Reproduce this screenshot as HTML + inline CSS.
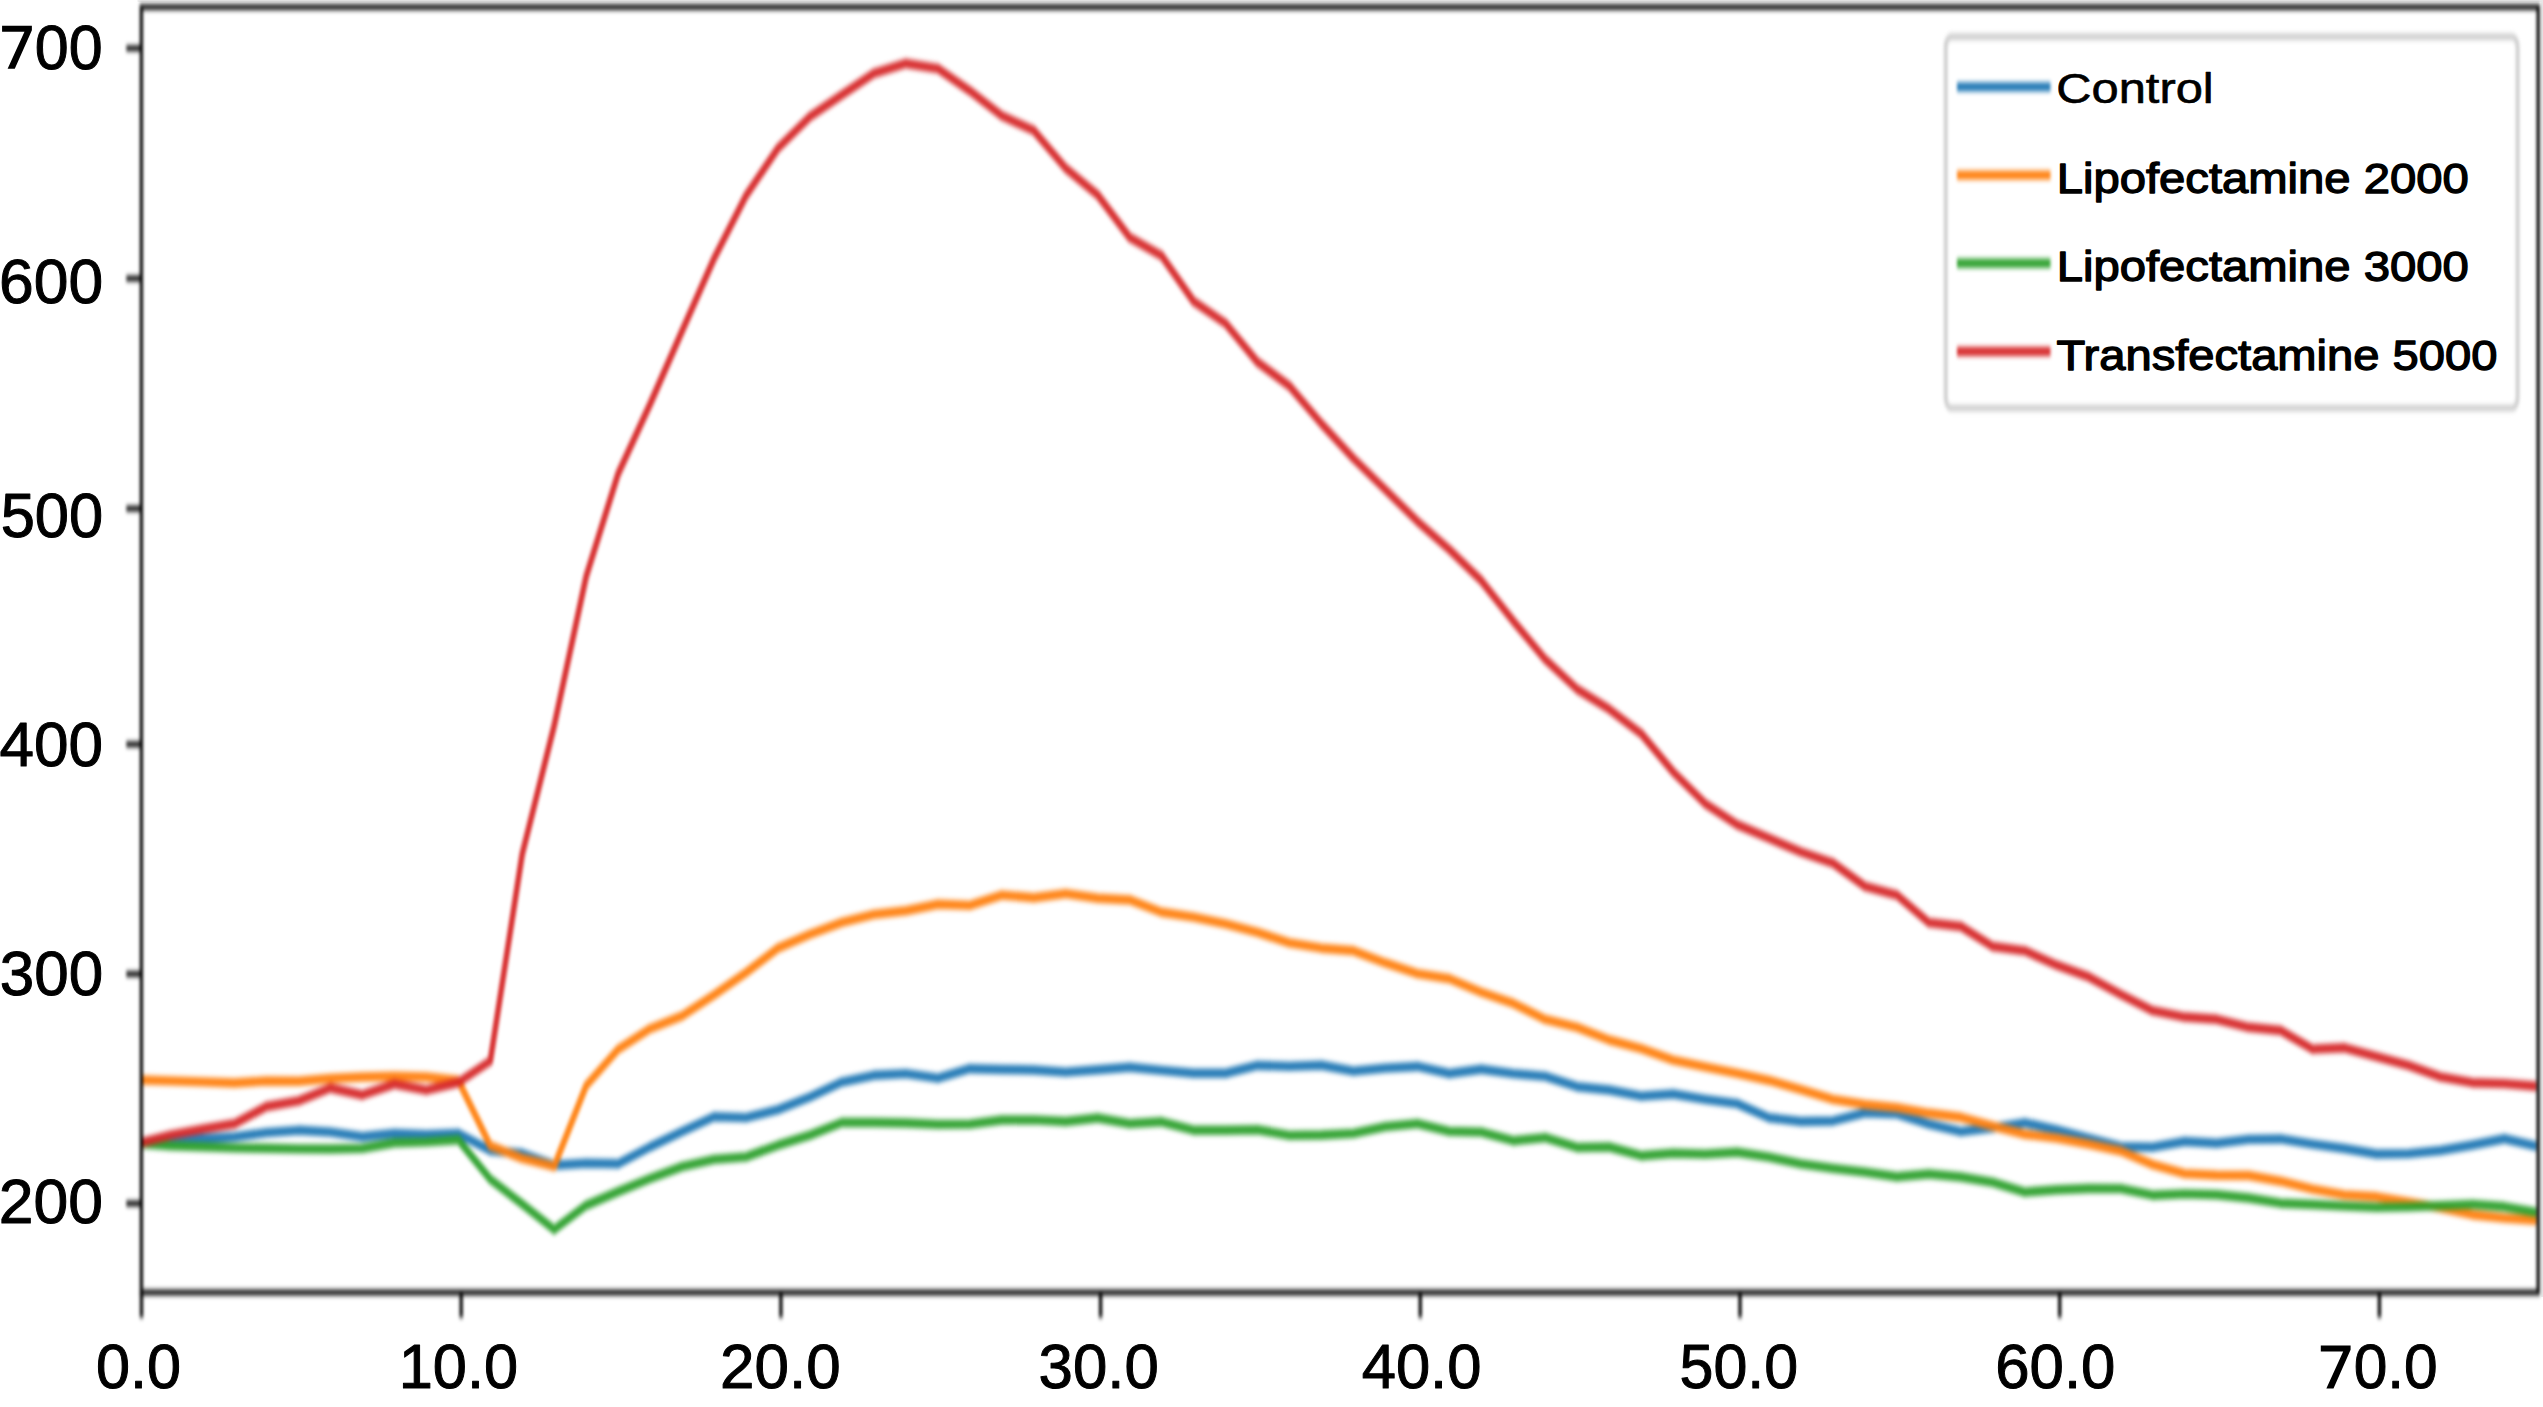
<!DOCTYPE html>
<html><head><meta charset="utf-8"><title>chart</title>
<style>
html,body{margin:0;padding:0;background:#fff;}
body{width:2543px;height:1407px;overflow:hidden;}
svg{display:block;}
text{font-family:"Liberation Sans",sans-serif;fill:#000;}
</style></head><body>
<svg width="2543" height="1407" viewBox="0 0 2543 1407">
<defs>
<filter id="b" x="0" y="0" width="2543" height="1407" filterUnits="userSpaceOnUse" color-interpolation-filters="sRGB"><feGaussianBlur stdDeviation="1.75 2.9"/></filter>
<clipPath id="c"><rect x="140.9" y="0" width="2397.5" height="780"/></clipPath>
</defs>
<rect x="0" y="0" width="2543" height="1407" fill="#fff"/>
<rect x="137.5" y="0" width="2405.5" height="1.9" fill="#efefef"/>
<rect x="2541.3" y="0" width="1.7" height="1297" fill="#e9e9e9"/>
<g transform="translate(0.5,0.5)"><g filter="url(#b)"><g transform="scale(1,1.67)" fill="none">
<g clip-path="url(#c)" stroke-width="5.629" stroke-opacity="0.95" stroke-linejoin="round" stroke-linecap="butt">
<polyline stroke="#1f77b4" points="138.1,684.07 170.1,682.74 202.0,681.55 234.0,680.46 266.0,677.95 297.9,676.54 329.9,677.63 361.9,680.40 393.9,678.39 425.8,679.10 457.8,678.44 489.8,688.67 521.7,690.44 553.7,697.43 585.7,696.28 617.6,696.54 649.6,686.46 681.6,677.20 713.6,668.37 745.5,668.96 777.5,664.17 809.5,656.58 841.4,647.65 873.4,643.60 905.4,642.57 937.4,645.25 969.3,639.66 1001.3,640.09 1033.3,640.38 1065.2,641.69 1097.2,640.23 1129.2,638.75 1161.1,640.64 1193.1,642.37 1225.1,642.36 1257.0,637.68 1289.0,638.24 1321.0,637.56 1353.0,641.12 1384.9,639.28 1416.9,638.29 1448.9,642.53 1480.8,639.95 1512.8,642.57 1544.8,644.26 1576.7,650.41 1608.7,652.40 1640.7,656.07 1672.7,654.80 1704.6,657.99 1736.6,660.54 1768.6,669.04 1800.5,671.26 1832.5,670.94 1864.5,666.07 1896.4,666.71 1928.4,672.82 1960.4,677.33 1992.4,675.07 2024.3,672.06 2056.3,676.32 2088.3,681.32 2120.2,686.35 2152.2,686.62 2184.2,683.22 2216.1,684.26 2248.1,681.98 2280.1,681.70 2312.1,684.79 2344.0,687.39 2376.0,690.69 2408.0,690.48 2439.9,688.62 2471.9,685.31 2503.9,681.58 2535.8,685.95"/>
<polyline stroke="#ff7f0e" points="138.1,646.35 170.1,646.95 202.0,647.56 234.0,648.18 266.0,647.01 297.9,647.15 329.9,645.47 361.9,644.58 393.9,644.14 425.8,644.62 457.8,646.65 489.8,685.74 521.7,693.38 553.7,698.08 585.7,649.81 617.6,628.03 649.6,615.70 681.6,608.03 713.6,595.47 745.5,582.12 777.5,567.45 809.5,559.13 841.4,552.04 873.4,547.21 905.4,545.05 937.4,541.19 969.3,541.82 1001.3,535.69 1033.3,537.25 1065.2,534.79 1097.2,537.59 1129.2,538.59 1161.1,545.95 1193.1,548.91 1225.1,552.95 1257.0,557.95 1289.0,564.33 1321.0,567.48 1353.0,569.05 1384.9,576.33 1416.9,582.67 1448.9,585.80 1480.8,593.87 1512.8,600.54 1544.8,610.15 1576.7,614.90 1608.7,622.45 1640.7,627.66 1672.7,634.55 1704.6,638.50 1736.6,642.42 1768.6,646.69 1800.5,652.19 1832.5,657.99 1864.5,661.08 1896.4,662.93 1928.4,666.35 1960.4,668.74 1992.4,674.07 2024.3,678.88 2056.3,681.23 2088.3,684.81 2120.2,688.92 2152.2,697.09 2184.2,702.49 2216.1,703.44 2248.1,703.57 2280.1,707.01 2312.1,711.74 2344.0,715.21 2376.0,716.35 2408.0,719.64 2439.9,722.93 2471.9,727.07 2503.9,729.10 2535.8,730.42"/>
<polyline stroke="#2ca02c" points="138.1,684.31 170.1,685.75 202.0,686.35 234.0,687.04 266.0,687.27 297.9,687.66 329.9,687.72 361.9,687.35 393.9,684.01 425.8,683.46 457.8,682.16 489.8,705.85 521.7,720.65 553.7,735.93 585.7,721.46 617.6,713.28 649.6,705.42 681.6,698.28 713.6,693.95 745.5,692.42 777.5,685.46 809.5,679.43 841.4,671.86 873.4,671.82 905.4,672.15 937.4,672.96 969.3,672.84 1001.3,670.36 1033.3,670.29 1065.2,671.29 1097.2,669.19 1129.2,672.51 1161.1,671.44 1193.1,676.47 1225.1,676.47 1257.0,676.19 1289.0,679.55 1321.0,679.33 1353.0,678.37 1384.9,674.31 1416.9,672.54 1448.9,677.17 1480.8,677.61 1512.8,682.75 1544.8,680.88 1576.7,686.82 1608.7,686.52 1640.7,691.74 1672.7,690.26 1704.6,690.79 1736.6,689.67 1768.6,692.58 1800.5,696.65 1832.5,699.31 1864.5,701.58 1896.4,704.31 1928.4,702.70 1960.4,704.49 1992.4,707.67 2024.3,713.53 2056.3,712.16 2088.3,711.34 2120.2,711.48 2152.2,715.39 2184.2,714.61 2216.1,715.15 2248.1,717.04 2280.1,720.17 2312.1,720.93 2344.0,721.92 2376.0,722.66 2408.0,722.41 2439.9,721.61 2471.9,720.87 2503.9,722.34 2535.8,725.63"/>
<polyline stroke="#d62728" points="138.1,684.40 170.1,679.37 202.0,675.79 234.0,672.63 266.0,662.25 297.9,658.88 329.9,651.19 361.9,655.37 393.9,648.83 425.8,652.48 457.8,647.90 489.8,635.03 521.7,511.25 553.7,434.23 585.7,344.82 617.6,283.44 649.6,241.69 681.6,197.90 713.6,154.47 745.5,116.88 777.5,88.43 809.5,69.56 841.4,56.50 873.4,43.60 905.4,37.72 937.4,40.82 969.3,54.07 1001.3,69.04 1033.3,77.88 1065.2,100.46 1097.2,116.48 1129.2,141.89 1161.1,152.83 1193.1,180.17 1225.1,193.41 1257.0,216.54 1289.0,230.90 1321.0,253.46 1353.0,274.23 1384.9,292.97 1416.9,311.86 1448.9,328.81 1480.8,347.40 1512.8,371.61 1544.8,394.59 1576.7,412.42 1608.7,424.36 1640.7,439.04 1672.7,461.93 1704.6,480.86 1736.6,493.51 1768.6,501.66 1800.5,509.89 1832.5,516.52 1864.5,530.46 1896.4,535.74 1928.4,552.18 1960.4,554.49 1992.4,566.49 2024.3,569.05 2056.3,577.66 2088.3,584.69 2120.2,595.15 2152.2,604.88 2184.2,608.72 2216.1,610.06 2248.1,614.85 2280.1,616.80 2312.1,627.93 2344.0,627.13 2376.0,632.39 2408.0,637.61 2439.9,644.49 2471.9,648.02 2503.9,648.60 2535.8,650.16"/>
</g>
<g stroke="#000" stroke-opacity="0.94" stroke-width="3.413" stroke-linecap="butt">
<rect x="140.90" y="3.952" width="2396.80" height="769.701"/>
<line x1="125.80" y1="28.623" x2="140.90" y2="28.623"/>
<line x1="125.80" y1="166.467" x2="140.90" y2="166.467"/>
<line x1="125.80" y1="304.251" x2="140.90" y2="304.251"/>
<line x1="125.80" y1="445.389" x2="140.90" y2="445.389"/>
<line x1="125.80" y1="582.934" x2="140.90" y2="582.934"/>
<line x1="125.80" y1="720.359" x2="140.90" y2="720.359"/>
<line x1="141.00" y1="773.653" x2="141.00" y2="788.743"/>
<line x1="460.70" y1="773.653" x2="460.70" y2="788.743"/>
<line x1="780.40" y1="773.653" x2="780.40" y2="788.743"/>
<line x1="1100.10" y1="773.653" x2="1100.10" y2="788.743"/>
<line x1="1419.80" y1="773.653" x2="1419.80" y2="788.743"/>
<line x1="1739.50" y1="773.653" x2="1739.50" y2="788.743"/>
<line x1="2059.20" y1="773.653" x2="2059.20" y2="788.743"/>
<line x1="2378.90" y1="773.653" x2="2378.90" y2="788.743"/>
</g>
</g></g></g>
<g transform="translate(0.5,0.5)"><g filter="url(#b)"><g transform="scale(1,1.67)">
<rect x="1945.20" y="21.677" width="571.90" height="222.395" rx="6" ry="6" fill="#fff" fill-opacity="0.8" stroke="#cfcfcf" stroke-width="3.832"/>
<g stroke-width="5.629" stroke-opacity="0.95" fill="none">
<line x1="1956.5" y1="51.737" x2="2050" y2="51.737" stroke="#1f77b4"/>
<line x1="1956.5" y1="104.551" x2="2050" y2="104.551" stroke="#ff7f0e"/>
<line x1="1956.5" y1="157.365" x2="2050" y2="157.365" stroke="#2ca02c"/>
<line x1="1956.5" y1="210.180" x2="2050" y2="210.180" stroke="#d62728"/>
</g></g></g></g>
<text x="2056.31" y="102.66" font-size="41.9" textLength="157.42" lengthAdjust="spacingAndGlyphs" stroke="#000" stroke-width="0.6" stroke-linejoin="round">Control</text>
<text x="2056.67" y="192.89" font-size="41.7" textLength="412.11" lengthAdjust="spacingAndGlyphs" stroke="#000" stroke-width="1.3" stroke-linejoin="round">Lipofectamine 2000</text>
<text x="2056.67" y="281.09" font-size="41.7" textLength="412.11" lengthAdjust="spacingAndGlyphs" stroke="#000" stroke-width="1.3" stroke-linejoin="round">Lipofectamine 3000</text>
<text x="2056.50" y="369.65" font-size="41.7" textLength="440.93" lengthAdjust="spacingAndGlyphs" stroke="#000" stroke-width="1.3" stroke-linejoin="round">Transfectamine 5000</text>
<polygon points="2.08,25.85 31.88,25.85 31.88,30.25 14.78,68.85 7.63,68.85 24.48,31.85 2.08,31.85" fill="#000"/>
<text x="34.79" y="69.33" font-size="62.8" textLength="67.80" lengthAdjust="spacingAndGlyphs" stroke="#000" stroke-width="1.0" stroke-linejoin="round">00</text>
<text x="-0.97" y="303.01" font-size="62.8" textLength="104.07" lengthAdjust="spacingAndGlyphs" stroke="#000" stroke-width="1.0" stroke-linejoin="round">600</text>
<text x="0.64" y="537.35" font-size="62.8" textLength="102.50" lengthAdjust="spacingAndGlyphs" stroke="#000" stroke-width="1.0" stroke-linejoin="round">500</text>
<text x="-0.43" y="765.81" font-size="62.8" textLength="103.51" lengthAdjust="spacingAndGlyphs" stroke="#000" stroke-width="1.0" stroke-linejoin="round">400</text>
<text x="-0.25" y="994.50" font-size="62.8" textLength="103.38" lengthAdjust="spacingAndGlyphs" stroke="#000" stroke-width="1.0" stroke-linejoin="round">300</text>
<text x="-1.14" y="1222.82" font-size="62.8" textLength="104.17" lengthAdjust="spacingAndGlyphs" stroke="#000" stroke-width="1.0" stroke-linejoin="round">200</text>
<text x="95.90" y="1387.87" font-size="62.8" textLength="85.11" lengthAdjust="spacingAndGlyphs" stroke="#000" stroke-width="1.0" stroke-linejoin="round">0.0</text>
<text x="398.74" y="1387.85" font-size="62.8" textLength="119.36" lengthAdjust="spacingAndGlyphs" stroke="#000" stroke-width="1.0" stroke-linejoin="round">10.0</text>
<text x="720.06" y="1387.86" font-size="62.8" textLength="120.60" lengthAdjust="spacingAndGlyphs" stroke="#000" stroke-width="1.0" stroke-linejoin="round">20.0</text>
<text x="1038.61" y="1387.72" font-size="62.8" textLength="120.24" lengthAdjust="spacingAndGlyphs" stroke="#000" stroke-width="1.0" stroke-linejoin="round">30.0</text>
<text x="1361.67" y="1387.96" font-size="62.8" textLength="119.80" lengthAdjust="spacingAndGlyphs" stroke="#000" stroke-width="1.0" stroke-linejoin="round">40.0</text>
<text x="1679.55" y="1387.80" font-size="62.8" textLength="118.60" lengthAdjust="spacingAndGlyphs" stroke="#000" stroke-width="1.0" stroke-linejoin="round">50.0</text>
<text x="1995.20" y="1387.81" font-size="62.8" textLength="120.25" lengthAdjust="spacingAndGlyphs" stroke="#000" stroke-width="1.0" stroke-linejoin="round">60.0</text>
<polygon points="2320.80,1345.40 2350.60,1345.40 2350.60,1349.80 2333.50,1388.40 2326.35,1388.40 2343.20,1351.40 2320.80,1351.40" fill="#000"/>
<text x="2353.67" y="1387.83" font-size="62.8" textLength="84.04" lengthAdjust="spacingAndGlyphs" stroke="#000" stroke-width="1.0" stroke-linejoin="round">0.0</text>
</svg></body></html>
